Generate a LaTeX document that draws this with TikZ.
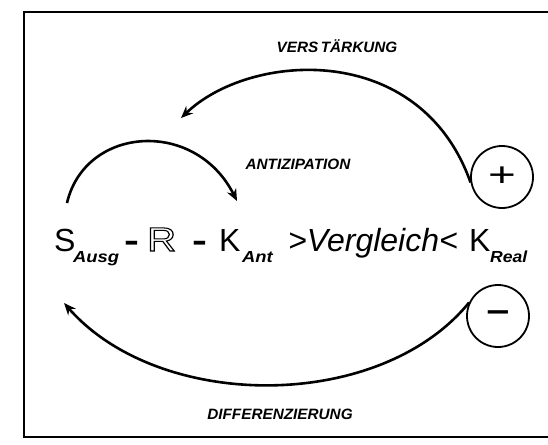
\documentclass[tikz,border=0pt]{standalone}
\usepackage{fontspec}
\setmainfont{Liberation Sans}
\usetikzlibrary{arrows.meta}
\newcommand\outlinetext[1]{\special{pdf:literal direct 1 Tr 1 w}#1\special{pdf:literal direct 0 Tr}}
\begin{document}
\begin{tikzpicture}[x=1pt,y=-1pt,
  lab/.style={font=\fontsize{15}{15}\selectfont\bfseries\itshape, inner sep=0},
  big/.style={font=\fontsize{32}{32}\selectfont, inner sep=0, anchor=base west},
  sub/.style={font=\fontsize{16}{16}\selectfont\bfseries\itshape, inner sep=0, anchor=base west},
  arr/.style={line width=2.6pt, -{Stealth[length=12pt,width=10pt]}},
  sign/.style={circle, draw, line width=1.8pt, minimum size=62pt, inner sep=0}]
\useasboundingbox (0,0) rectangle (548,444);
\draw[line width=2pt] (560,12) -- (24,12) -- (24,437) -- (560,437);

% formula
\node[big] (S) at (54,251) {S};
\node[sub] (ausg) at (73,262) {\scalebox{1.15}[1]{Ausg}};
\node[big] (d1) at (124,251) {\scalebox{1.4}[1]{\bfseries -}};
\node[big] (R) at (147,251) {\scalebox{1.25}[1.05]{\outlinetext{R}}};
\node[big] (d2) at (192,251) {\scalebox{1.4}[1]{\bfseries -}};
\node[big] (K1) at (219,251) {K};
\node[sub] (ant) at (242,262) {\scalebox{1.15}[1]{Ant}};
\node[big, font=\fontsize{32}{32}\selectfont\itshape] (cmp) at (288,251) {>Vergleich<};
\node[big] (K2) at (469,251) {K};
\node[sub] (real) at (490,262) {\scalebox{1.1}[1]{Real}};

% signs
\node[sign] (plus) at (502,177) {\fontsize{34}{34}\selectfont\scalebox{1.4}[1]{+}};
\node[sign] (minus) at (498,316) {\fontsize{34}{34}\selectfont\bfseries\scalebox{1.2}[1]{–}};

% labels
\node[lab] (verst) at (337,46) {\scalebox{1.02}[1]{VERS\,TÄRKUNG}};
\node[lab] (anti) at (298,164) {\scalebox{1.02}[1]{ANTIZIPATION}};
\node[lab] (diff) at (280,414) {\scalebox{1.02}[1]{DIFFERENZIERUNG}};

% connectors
\coordinate (vtip) at (181,118);
\coordinate (astart) at (67,203);
\coordinate (atip) at (237,201);
\coordinate (dtip) at (64,303);
\draw[arr] (plus.190) .. controls (420,40) and (250,52) .. (vtip);
\draw[arr] (astart) .. controls (85,126) and (195,118) .. (atip);
\draw[arr] (minus.155) .. controls (380,412) and (160,412) .. (dtip);
\end{tikzpicture}
\end{document}
